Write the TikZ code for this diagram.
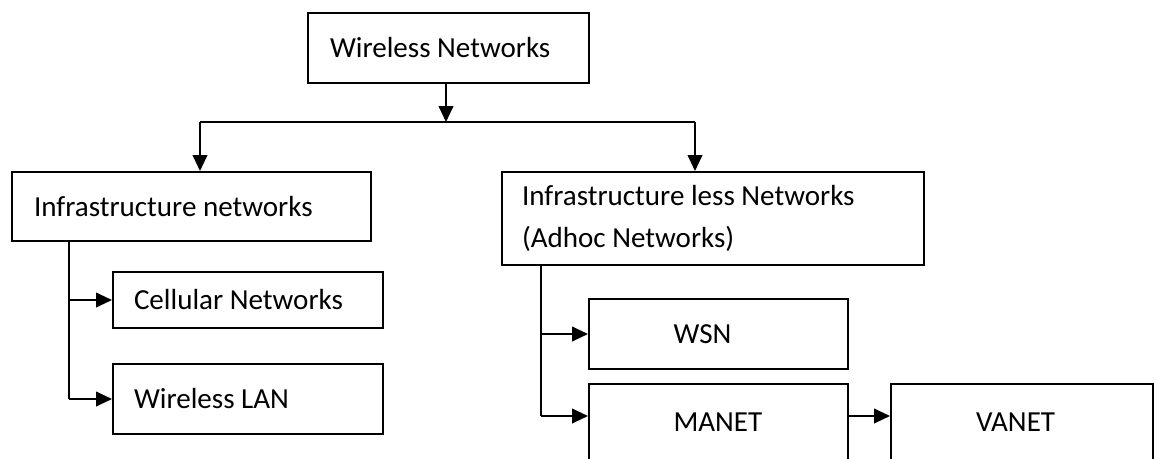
\documentclass[tikz,border=0pt]{standalone}
\usepackage{fontspec}
\setmainfont{Carlito}
\usetikzlibrary{arrows.meta,positioning}

\tikzset{
  netbox/.style={draw, line width=1.5pt, anchor=north west, align=left, inner sep=0pt,
    font=\fontsize{21.8}{31.5}\selectfont,
    execute at begin node={\spaceskip=0pt\xspaceskip=0pt\relax}},
  arr/.style={line width=1.5pt, -{Triangle[length=12pt,width=11pt]}},
  trunk/.style={line width=0.9pt}
}

\begin{document}
\begin{tikzpicture}[x=0.75pt,y=-0.75pt]
  \clip (0,0) rectangle (1154,458);

  % boxes
  \node[netbox, minimum width=210.75pt, minimum height=52.5pt, text width=177.75pt] (wn) at (307,12) {Wireless Networks};
  \node[netbox, minimum width=269.25pt, minimum height=51.75pt, text width=236.25pt] (inf) at (11,171) {Infrastructure networks};
  \node[netbox, minimum width=316.5pt, minimum height=69.75pt, text width=286.5pt] (adh) at (501,171) {Infrastructure less Networks\\(Adhoc Networks)};
  \node[netbox, minimum width=202.5pt, minimum height=42pt, text width=171pt] (cell) at (112,271) {Cellular Networks};
  \node[netbox, minimum width=202.5pt, minimum height=52.5pt, text width=171pt] (wlan) at (112,363) {Wireless LAN};
  \node[netbox, minimum width=194.25pt, minimum height=52.5pt, text width=67.5pt] (wsn) at (588,298) {WSN};
  \node[netbox, minimum width=194.25pt, minimum height=57pt, text width=67.5pt] (manet) at (588,383) {MANET};
  \node[netbox, minimum width=196.5pt, minimum height=57pt, text width=69pt] (vanet) at (890,383) {VANET};

  % split below the root
  \coordinate (split) at (446,122);
  \coordinate (lsplit) at (200,122);
  \coordinate (rsplit) at (695,122);
  \draw[arr] (wn.south -| split) -- (split);
  \draw[line width=1.4pt] (lsplit) -- (rsplit);
  \draw[arr] (lsplit) -- (lsplit |- inf.north);
  \draw[arr] (rsplit) -- (rsplit |- adh.north);

  % left branch
  \coordinate (ltop) at (69,240);
  \draw[trunk] (ltop |- inf.south) -- (ltop |- wlan.west);
  \draw[arr] (ltop |- cell.west) -- (cell.west);
  \draw[arr] (ltop |- wlan.west) -- (wlan.west);

  % right branch
  \coordinate (rtop) at (541,264);
  \coordinate (manin) at ([yshift=4.5pt]manet.west);
  \draw[trunk] (rtop |- adh.south) -- (rtop |- manin);
  \draw[arr] (rtop |- wsn.west) -- (wsn.west);
  \draw[arr] (rtop |- manin) -- (manin);
  \draw[arr] (manin -| manet.east) -- (manin -| vanet.west);
\end{tikzpicture}
\end{document}
